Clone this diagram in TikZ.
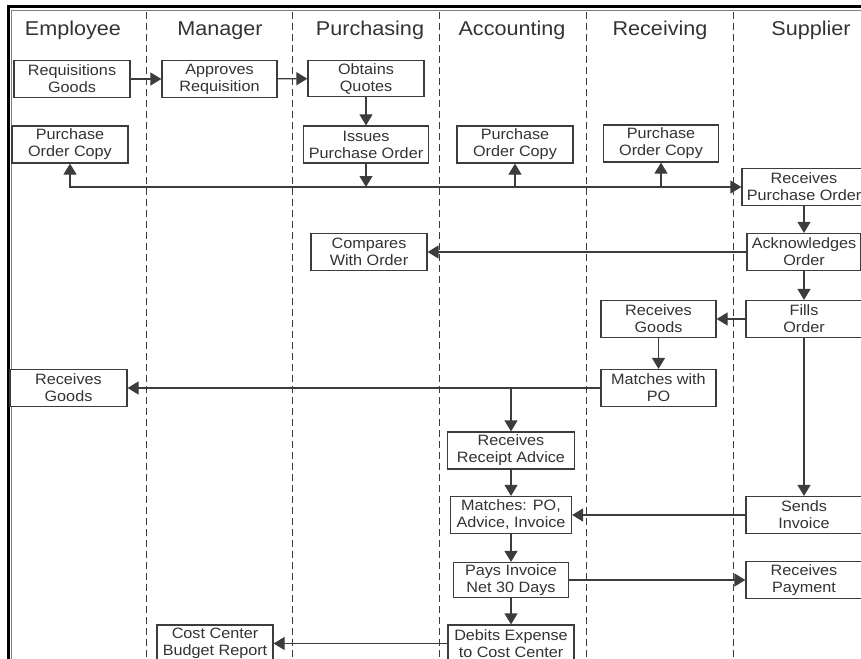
\documentclass[tikz,border=0pt]{standalone}
\usepackage{fontspec}
\setmainfont{Liberation Sans}[FakeStretch=1.08]
\usetikzlibrary{arrows.meta}
\definecolor{linegray}{HTML}{3C3C3C}
\definecolor{textgray}{HTML}{333333}

\begin{document}
\begin{tikzpicture}[x=1pt, y=-1pt,
  procbox/.style={draw=linegray, line width=1.2pt, fill=white, align=center,
    inner sep=1pt, minimum height=37pt, text=textgray,
    font=\fontsize{15}{17}\selectfont},
  lanehead/.style={anchor=base, text=textgray, font=\fontsize{20}{23}\selectfont},
  flow/.style={draw=linegray, line width=1.2pt, -{Triangle[length=11pt, width=13pt]}},
  lane/.style={draw=linegray, line width=1pt, dash pattern=on 7pt off 4pt}]
\useasboundingbox (0,0) rectangle (861,658);
\clip (0,0) rectangle (861,658);

\draw[line width=3pt] (8.5,700) -- (8.5,6.5) -- (900,6.5);
\draw[gray, line width=0.6pt] (11,700) -- (11,10.5) -- (900,10.5);
\foreach \xl in {146,292,439,586,733}
  \draw[lane] (\xl,12) -- (\xl,700);

\node[lanehead] (hEmp) at (73,36) {Employee};
\node[lanehead] (hMgr) at (220,36) {Manager};
\node[lanehead] (hPur) at (370,36) {Purchasing};
\node[lanehead] (hAcc) at (512,36) {Accounting};
\node[lanehead] (hRec) at (660,36) {Receiving};
\node[lanehead] (hSup) at (811,36) {Supplier};

\node[procbox, minimum width=116pt] (reqGoods) at (72,79) {Requisitions\\Goods};
\node[procbox, minimum width=115pt] (apprReq) at (219.5,79) {Approves\\Requisition};
\node[procbox, minimum width=116pt, minimum height=36pt] (obtQuotes) at (366,78.5) {Obtains\\Quotes};
\node[procbox, minimum width=116pt] (empPOC) at (70,144.5) {Purchase\\Order Copy};
\node[procbox, minimum width=125pt] (issPO) at (366,144.5) {Issues\\Purchase Order};
\node[procbox, minimum width=116pt] (actPOC) at (515,144.5) {Purchase\\Order Copy};
\node[procbox, minimum width=115pt] (recPOC) at (661,143.5) {Purchase\\Order Copy};

\node[procbox, minimum width=124pt] (rcvPO) at (804,187) {Receives\\Purchase Order};
\node[procbox, minimum width=114pt] (ackOrd) at (804,252) {Acknowledges\\Order};
\node[procbox, minimum width=116pt] (cmpOrd) at (369,252) {Compares\\With Order};
\node[procbox, minimum width=116pt] (filOrd) at (804,319) {Fills\\Order};
\node[procbox, minimum width=115pt] (rcvGoods) at (658.5,319) {Receives\\Goods};
\node[procbox, minimum width=115pt] (mtcPO) at (658.5,388) {Matches with\\PO};
\node[procbox, minimum width=117pt] (empGoods) at (68.5,388) {Receives\\Goods};

\node[procbox, minimum width=127pt] (rcpAdv) at (511,450.5) {Receives\\Receipt Advice};
\node[procbox, minimum width=121pt] (mtcAll) at (511,515) {Matches: PO,\\Advice, Invoice};
\node[procbox, minimum width=115pt, minimum height=35pt] (payInv) at (511,580) {Pays Invoice\\Net 30 Days};
\node[procbox, minimum width=126pt] (dbtExp) at (511,643.5) {Debits Expense\\to Cost Center};
\node[procbox, minimum width=116pt] (ccbRep) at (215,643.5) {Cost Center\\Budget Report};
\node[procbox, minimum width=116pt] (sndInv) at (804,515) {Sends\\Invoice};
\node[procbox, minimum width=116pt] (rcvPay) at (804,580) {Receives\\Payment};

\coordinate (bus) at (issPO.south |- rcvPO.west);
\coordinate (tap) at (rcpAdv.north |- mtcPO.west);

\draw[flow] (reqGoods) -- (apprReq);
\draw[flow] (apprReq) -- (obtQuotes);
\draw[flow] (obtQuotes) -- (issPO);
\draw[flow] (issPO) -- (bus);
\draw[flow] (bus) -| (empPOC.south);
\draw[flow] (bus) -- (rcvPO.west);
\draw[flow] (actPOC.south |- bus) -- (actPOC);
\draw[flow] (recPOC.south |- bus) -- (recPOC);
\draw[flow] (rcvPO) -- (ackOrd);
\draw[flow] (ackOrd) -- (cmpOrd);
\draw[flow] (ackOrd) -- (filOrd);
\draw[flow] (filOrd) -- (rcvGoods);
\draw[flow] (rcvGoods) -- (mtcPO);
\draw[flow] (mtcPO) -- (empGoods);
\draw[flow] (tap) -- (rcpAdv);
\draw[flow] (rcpAdv) -- (mtcAll);
\draw[flow] (mtcAll) -- (payInv);
\draw[flow] (payInv) -- (dbtExp);
\draw[flow] (filOrd) -- (sndInv);
\draw[flow] (sndInv) -- (mtcAll);
\draw[flow] (payInv) -- (rcvPay);
\draw[flow] (dbtExp) -- (ccbRep);
\end{tikzpicture}
\end{document}
